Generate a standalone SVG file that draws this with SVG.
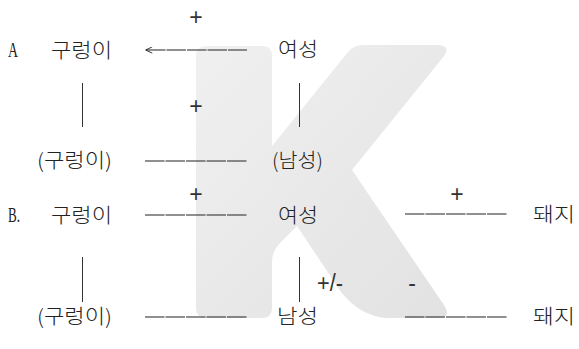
<svg xmlns="http://www.w3.org/2000/svg" width="579" height="349" viewBox="0 0 579 349">
  <defs>
    <linearGradient id="wm" x1="0" y1="0" x2="1" y2="1">
      <stop offset="0" stop-color="#f0f0f0"/>
      <stop offset="1" stop-color="#e2e2e2"/>
    </linearGradient>
    <marker id="arr" viewBox="0 0 10 10" refX="1" refY="5" markerWidth="8" markerHeight="7" orient="auto" markerUnits="userSpaceOnUse">
      <path d="M10,0.5 L0.5,5 L10,9.5" fill="none" stroke="#222" stroke-width="1.3"/>
    </marker>
  </defs>
  <style>
    .ko { font-family: "Noto Sans CJK KR", "Noto Sans", sans-serif; font-size: 20px; font-weight: 300; fill: #222; }
    .sym { font-family: "Liberation Sans", "DejaVu Sans", sans-serif; font-size: 23px; fill: #333; text-anchor: middle; }
    .lab { font-family: "Liberation Serif", "DejaVu Serif", serif; font-size: 20px; fill: #222; }
    .dash { stroke: #222; stroke-width: 1.1; stroke-dasharray: 19.5 1; fill: none; }
    .vl { stroke: #333; stroke-width: 1; fill: none; }
  </style>
  <rect width="579" height="349" fill="#ffffff"/>
  <path id="watermark" fill="url(#wm)" d="M196,56 Q196,46 206,46 L263,46 Q272,46 272,56 L272,146 L348,52 Q354,45 363,45 L438,45 Q451,46 444,56 L352,170 L444,305 Q452,318 438,318 L387,318 Q360,316 341,292 L297,226 L281,242 Q272,251 272,262 L272,308 Q272,318 262,318 L206,318 Q196,318 196,308 Z"/>

  <g id="connectors">
    <line class="dash" x1="146" y1="50" x2="247" y2="50" marker-start="url(#arr)"/>
    <line class="vl" x1="82.5" y1="83" x2="82.5" y2="127"/>
    <line class="vl" x1="299.5" y1="83" x2="299.5" y2="127"/>
    <line class="dash" x1="145" y1="161" x2="247" y2="161"/>
    <line class="dash" x1="145" y1="215" x2="247" y2="215"/>
    <line class="dash" x1="405" y1="214" x2="507" y2="214"/>
    <line class="vl" x1="82.5" y1="257" x2="82.5" y2="302"/>
    <line class="vl" x1="299.5" y1="257" x2="299.5" y2="302"/>
    <line class="dash" x1="145" y1="317" x2="247" y2="317"/>
    <line class="dash" x1="405" y1="317" x2="507" y2="317"/>
    <text class="sym" x="196" y="25">+</text>
    <text class="sym" x="196" y="114">+</text>
    <text class="sym" x="196" y="202">+</text>
    <text class="sym" x="457" y="202">+</text>
    <text class="sym" x="330" y="291" font-size="20" textLength="26" lengthAdjust="spacingAndGlyphs">+/-</text>
    <text class="sym" x="412" y="291" font-size="20">-</text>
  </g>

  <g id="label-A"><text class="lab" x="8" y="57" textLength="10" lengthAdjust="spacingAndGlyphs">A</text></g>
  <g id="label-B"><text class="lab" x="8" y="222" textLength="12" lengthAdjust="spacingAndGlyphs">B.</text></g>

  <g id="A-gureongi"><text class="ko" x="51" y="58" textLength="61" lengthAdjust="spacingAndGlyphs">구렁이</text></g>
  <g id="A-yeoseong"><text class="ko" x="278" y="57" textLength="40" lengthAdjust="spacingAndGlyphs">여성</text></g>
  <g id="A-gureongi2"><text class="ko" x="37" y="168" textLength="75" lengthAdjust="spacingAndGlyphs">(구렁이)</text></g>
  <g id="A-namseong"><text class="ko" x="272" y="168" textLength="51" lengthAdjust="spacingAndGlyphs">(남성)</text></g>

  <g id="B-gureongi"><text class="ko" x="51" y="223" textLength="61" lengthAdjust="spacingAndGlyphs">구렁이</text></g>
  <g id="B-yeoseong"><text class="ko" x="278" y="223" textLength="40" lengthAdjust="spacingAndGlyphs">여성</text></g>
  <g id="B-dwaeji"><text class="ko" x="533" y="222" textLength="42" lengthAdjust="spacingAndGlyphs">돼지</text></g>
  <g id="B-gureongi2"><text class="ko" x="37" y="324" textLength="75" lengthAdjust="spacingAndGlyphs">(구렁이)</text></g>
  <g id="B-namseong"><text class="ko" x="277" y="324" textLength="41" lengthAdjust="spacingAndGlyphs">남성</text></g>
  <g id="B-dwaeji2"><text class="ko" x="533" y="324" textLength="42" lengthAdjust="spacingAndGlyphs">돼지</text></g>
</svg>
